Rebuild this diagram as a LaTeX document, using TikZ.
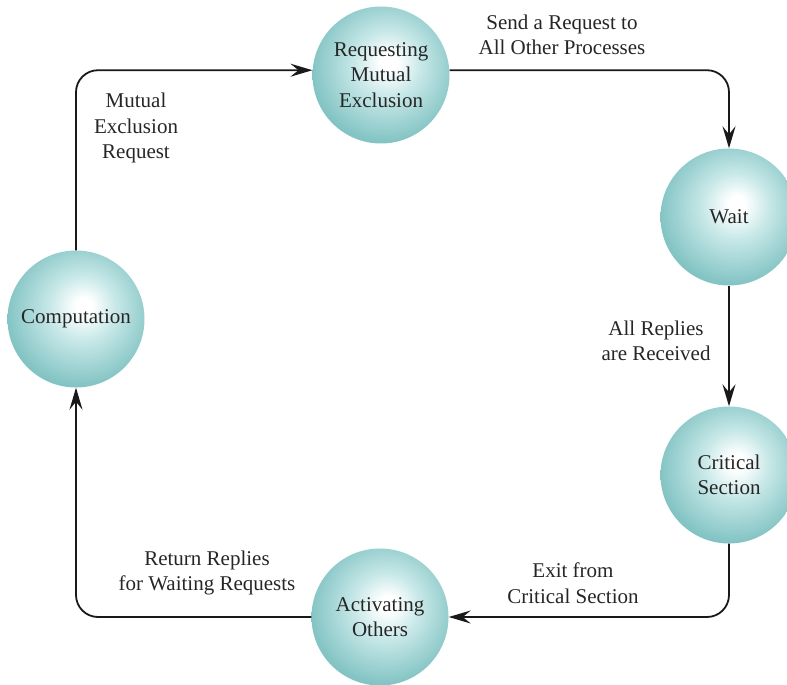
\documentclass[tikz,border=0pt]{standalone}
\usepackage{fontspec}
\setmainfont{Liberation Serif}
\usetikzlibrary{arrows.meta}
\definecolor{tealc}{RGB}{72,156,156}
\definecolor{tealm}{RGB}{132,196,196}
\definecolor{teall}{RGB}{200,232,232}
\pgfdeclareradialshading{ballshade}{\pgfpoint{3bp}{5bp}}{%
  color(0bp)=(white); color(3bp)=(white); color(12bp)=(teall); color(27bp)=(tealm); color(50bp)=(tealc); color(60bp)=(tealc)}
\tikzset{
  ball/.style={circle, minimum size=137pt, inner sep=0pt, shading=ballshade, align=center,
    font=\fontsize{21}{25.6}\selectfont, text=black!85},
  lbl/.style={align=center, font=\fontsize{21}{25.6}\selectfont, text=black!85},
  conn/.style={line width=1.8pt, black!90, rounded corners=22pt},
  arr/.style={conn, -{Stealth[length=22pt,width=13pt,inset=8pt]}}
}
\begin{document}
\begin{tikzpicture}[x=1pt,y=-1pt]
\clip (0,0) rectangle (787,685);
\node[ball] (req) at (381,75) {Requesting\\Mutual\\Exclusion};
\node[ball] (wait) at (729,217) {Wait};
\node[ball] (crit) at (729,475) {Critical\\Section};
\node[ball] (act) at (380,617) {Activating\\Others};
\node[ball] (comp) at (76,319) {Computation};

\draw[arr] (comp.north) |- (req.176);
\draw[arr] (req.4) -| (wait.north);
\draw[arr] (wait.south) -- (crit.north);
\draw[arr] (crit.south) |- (act.east);
\draw[arr] (act.west) -| (comp.south);

\node[lbl] (l1) at (562,35) {Send a Request to\\All Other Processes};
\node[lbl] (l2) at (136,128) {Mutual\\Exclusion\\Request};
\node[lbl] (l3) at (656,341) {All Replies\\are Received};
\node[lbl] (l4) at (573,583) {Exit from\\Critical Section};
\node[lbl] (l5) at (207,573) {Return Replies\\for Waiting Requests};
\end{tikzpicture}
\end{document}
